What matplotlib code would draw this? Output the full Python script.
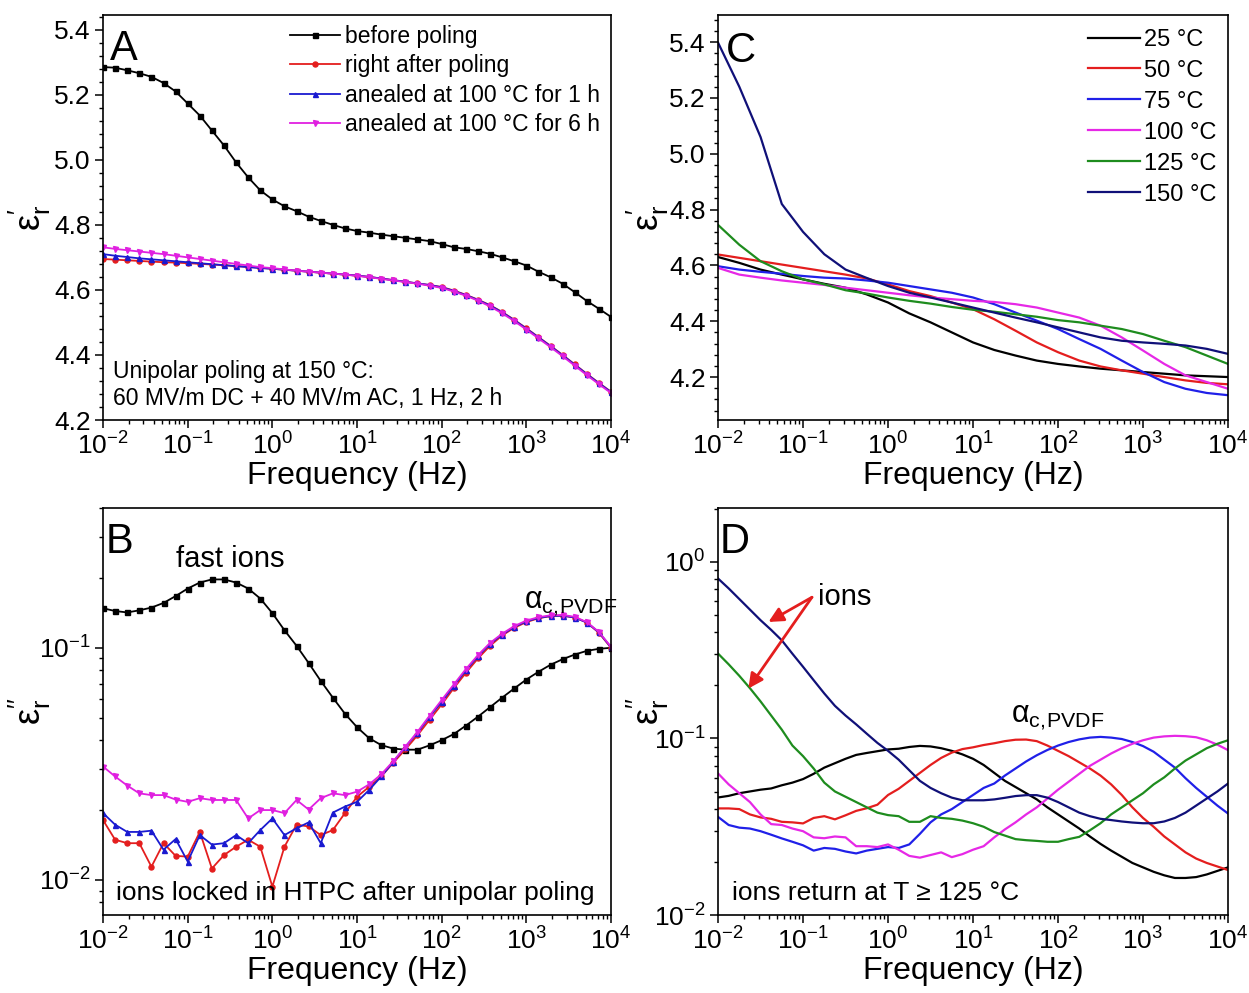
'''Dielectric spectra of the poled HTPC film: eps' and eps'' vs frequency'''
import matplotlib
matplotlib.use('Agg')
import matplotlib.pyplot as plt
import numpy as np
from matplotlib.ticker import AutoMinorLocator, LogLocator, NullFormatter

plt.rcParams['font.family'] = ['Liberation Sans', 'DejaVu Sans']
plt.rcParams['mathtext.fontset'] = 'custom'
plt.rcParams['mathtext.rm'] = 'Liberation Sans'
plt.rcParams['mathtext.it'] = 'Liberation Sans:italic'
plt.rcParams['mathtext.default'] = 'regular'

# measurement grids (7 points/decade for A,B; 4 for C; 8 for D)
freq_AB = np.logspace(-2, 4, 43)
freq_C = np.logspace(-2, 4, 25)
freq_D = np.logspace(-2, 4, 49)

# ---- panel A: eps' after poling ----
labels_A = ['before poling', 'right after poling',
            'anealed at 100 °C for 1 h', 'anealed at 100 °C for 6 h']
A_before = [5.285, 5.283, 5.275, 5.266, 5.255, 5.236, 5.210, 5.173, 5.136, 5.090,
            5.044, 4.992, 4.946, 4.906, 4.878, 4.857, 4.842, 4.825, 4.812, 4.800,
            4.789, 4.781, 4.776, 4.770, 4.765, 4.760, 4.755, 4.750, 4.741, 4.731,
            4.726, 4.719, 4.711, 4.700, 4.688, 4.675, 4.656, 4.639, 4.619, 4.593,
            4.566, 4.542, 4.517]
A_after = [4.695, 4.693, 4.691, 4.689, 4.687, 4.685, 4.684, 4.682, 4.680, 4.678,
           4.676, 4.673, 4.671, 4.668, 4.665, 4.662, 4.659, 4.656, 4.653, 4.650,
           4.647, 4.644, 4.640, 4.635, 4.630, 4.625, 4.620, 4.615, 4.609, 4.598,
           4.585, 4.570, 4.553, 4.532, 4.508, 4.482, 4.455, 4.428, 4.400, 4.371,
           4.342, 4.314, 4.287]
A_1h = [4.710, 4.705, 4.701, 4.697, 4.694, 4.691, 4.688, 4.685, 4.682, 4.679,
        4.676, 4.673, 4.670, 4.667, 4.665, 4.662, 4.659, 4.656, 4.653, 4.650,
        4.647, 4.644, 4.640, 4.635, 4.630, 4.625, 4.620, 4.615, 4.608, 4.597,
        4.584, 4.569, 4.552, 4.531, 4.507, 4.481, 4.454, 4.427, 4.399, 4.370,
        4.341, 4.313, 4.286]
A_6h = [4.731, 4.726, 4.722, 4.718, 4.714, 4.710, 4.705, 4.700, 4.695, 4.690,
        4.685, 4.680, 4.675, 4.670, 4.667, 4.663, 4.659, 4.656, 4.653, 4.650,
        4.647, 4.643, 4.639, 4.634, 4.629, 4.624, 4.619, 4.613, 4.606, 4.595,
        4.582, 4.567, 4.549, 4.528, 4.504, 4.478, 4.451, 4.424, 4.396, 4.367,
        4.338, 4.310, 4.283]

# ---- panel B: eps'' after poling ----
B_before = [0.148, 0.144, 0.142, 0.145, 0.149, 0.156, 0.167, 0.180, 0.191, 0.197,
            0.197, 0.191, 0.180, 0.163, 0.141, 0.119, 0.102, 0.086, 0.072, 0.061,
            0.052, 0.0455, 0.0408, 0.0381, 0.0368, 0.0364, 0.0364, 0.0380, 0.0400, 0.0425,
            0.0462, 0.0505, 0.0555, 0.0610, 0.0668, 0.0730, 0.0788, 0.0845, 0.0893, 0.0935,
            0.0970, 0.0990, 0.1000]
B_after = [0.0181, 0.0149, 0.0144, 0.0144, 0.0114, 0.0144, 0.0127, 0.0126, 0.0161, 0.0112,
           0.0128, 0.0139, 0.0149, 0.0139, 0.00936, 0.0139, 0.0173, 0.0170, 0.0156, 0.0164,
           0.0194, 0.0228, 0.0252, 0.0279, 0.0320, 0.0365, 0.0420, 0.0490, 0.0570, 0.0670,
           0.0780, 0.0900, 0.1020, 0.1130, 0.1220, 0.1290, 0.1340, 0.1370, 0.1375, 0.1350,
           0.1285, 0.1160, 0.1000]
B_1h = [0.0194, 0.0173, 0.0161, 0.0161, 0.0163, 0.0135, 0.0150, 0.0120, 0.0156, 0.0142,
        0.0144, 0.0156, 0.0144, 0.0164, 0.0184, 0.0156, 0.0167, 0.0177, 0.0144, 0.0195,
        0.0207, 0.0217, 0.0244, 0.0279, 0.0323, 0.0375, 0.0430, 0.0505, 0.0585, 0.0685,
        0.0800, 0.0920, 0.1040, 0.1140, 0.1230, 0.1300, 0.1345, 0.1370, 0.1375, 0.1350,
        0.1285, 0.1165, 0.1005]
B_6h = [0.0308, 0.0279, 0.0255, 0.0236, 0.0232, 0.0232, 0.0222, 0.0217, 0.0225, 0.0221,
        0.0221, 0.0221, 0.0184, 0.0200, 0.0200, 0.0194, 0.0221, 0.0201, 0.0225, 0.0236,
        0.0232, 0.0240, 0.0258, 0.0285, 0.0325, 0.0375, 0.0435, 0.0510, 0.0596, 0.0695,
        0.0810, 0.0930, 0.1050, 0.1150, 0.1240, 0.1310, 0.1355, 0.1380, 0.1385, 0.1360,
        0.1290, 0.1170, 0.1010]

# ---- panel C: eps' at different temperatures ----
labels_T = ['25 °C', '50 °C', '75 °C', '100 °C', '125 °C', '150 °C']
C_25 = [4.630, 4.609, 4.585, 4.567, 4.550, 4.534, 4.520, 4.496, 4.467, 4.428,
        4.396, 4.360, 4.324, 4.297, 4.277, 4.259, 4.247, 4.238, 4.230, 4.224,
        4.218, 4.212, 4.206, 4.203, 4.200]
C_50 = [4.639, 4.627, 4.615, 4.603, 4.591, 4.579, 4.567, 4.553, 4.532, 4.508,
        4.490, 4.467, 4.443, 4.407, 4.366, 4.324, 4.289, 4.259, 4.238, 4.224,
        4.212, 4.200, 4.188, 4.179, 4.174]
C_75 = [4.597, 4.585, 4.577, 4.570, 4.562, 4.556, 4.553, 4.546, 4.538, 4.526,
        4.514, 4.502, 4.485, 4.461, 4.431, 4.402, 4.372, 4.336, 4.301, 4.259,
        4.218, 4.182, 4.158, 4.143, 4.135]
C_100 = [4.591, 4.567, 4.556, 4.546, 4.538, 4.530, 4.520, 4.511, 4.502, 4.493,
         4.485, 4.479, 4.473, 4.469, 4.461, 4.449, 4.431, 4.413, 4.384, 4.342,
         4.295, 4.247, 4.206, 4.182, 4.158]
C_125 = [4.745, 4.674, 4.615, 4.579, 4.550, 4.532, 4.511, 4.499, 4.485, 4.473,
         4.463, 4.451, 4.441, 4.434, 4.425, 4.416, 4.404, 4.396, 4.384, 4.372,
         4.354, 4.330, 4.307, 4.277, 4.247]
C_150 = [5.398, 5.240, 5.060, 4.820, 4.720, 4.640, 4.585, 4.555, 4.526, 4.502,
         4.485, 4.467, 4.449, 4.431, 4.413, 4.396, 4.378, 4.360, 4.342, 4.330,
         4.324, 4.319, 4.313, 4.301, 4.283]

# ---- panel D: log10(eps'') at different temperatures ----
D_25 = [-1.334, -1.325, -1.31, -1.30, -1.29, -1.283, -1.265, -1.25, -1.23, -1.20,
        -1.165, -1.14, -1.115, -1.093, -1.082, -1.072, -1.062, -1.058, -1.048, -1.042,
        -1.045, -1.055, -1.07, -1.09, -1.115, -1.15, -1.195, -1.24, -1.275, -1.31,
        -1.345, -1.39, -1.43, -1.47, -1.51, -1.555, -1.597, -1.635, -1.67, -1.705,
        -1.73, -1.755, -1.775, -1.79, -1.79, -1.785, -1.77, -1.75, -1.73]
D_50 = [-1.396, -1.396, -1.40, -1.43, -1.447, -1.455, -1.472, -1.475, -1.481, -1.45,
        -1.44, -1.458, -1.435, -1.41, -1.395, -1.375, -1.32, -1.285, -1.24, -1.195,
        -1.15, -1.11, -1.08, -1.06, -1.05, -1.037, -1.027, -1.015, -1.007, -1.006,
        -1.015, -1.04, -1.07, -1.10, -1.135, -1.17, -1.21, -1.26, -1.32, -1.39,
        -1.45, -1.50, -1.555, -1.60, -1.645, -1.68, -1.705, -1.725, -1.745]
D_75 = [-1.444, -1.49, -1.505, -1.51, -1.525, -1.545, -1.566, -1.585, -1.605, -1.635,
        -1.62, -1.625, -1.64, -1.651, -1.635, -1.625, -1.615, -1.62, -1.60, -1.54,
        -1.475, -1.43, -1.40, -1.36, -1.32, -1.28, -1.255, -1.21, -1.17, -1.13,
        -1.095, -1.065, -1.04, -1.02, -1.005, -0.995, -0.991, -0.995, -1.003, -1.02,
        -1.043, -1.075, -1.12, -1.165, -1.225, -1.28, -1.33, -1.38, -1.425]
D_100 = [-1.198, -1.26, -1.31, -1.36, -1.43, -1.485, -1.49, -1.51, -1.525, -1.56,
         -1.565, -1.555, -1.56, -1.61, -1.61, -1.615, -1.60, -1.63, -1.665, -1.675,
         -1.66, -1.645, -1.672, -1.655, -1.63, -1.61, -1.56, -1.515, -1.475, -1.43,
         -1.39, -1.34, -1.29, -1.245, -1.20, -1.155, -1.12, -1.085, -1.055, -1.03,
         -1.01, -0.995, -0.988, -0.985, -0.987, -0.993, -1.01, -1.035, -1.066]
D_125 = [-0.519, -0.58, -0.645, -0.715, -0.79, -0.87, -0.95, -1.04, -1.10, -1.17,
         -1.25, -1.30, -1.33, -1.36, -1.39, -1.42, -1.434, -1.44, -1.472, -1.472,
         -1.44, -1.45, -1.455, -1.465, -1.48, -1.50, -1.53, -1.55, -1.57, -1.576,
         -1.58, -1.585, -1.585, -1.57, -1.557, -1.52, -1.48, -1.43, -1.39, -1.35,
         -1.31, -1.26, -1.22, -1.17, -1.125, -1.09, -1.055, -1.03, -1.01]
D_150 = [-0.094, -0.15, -0.21, -0.27, -0.33, -0.385, -0.444, -0.52, -0.594, -0.67,
         -0.745, -0.815, -0.87, -0.92, -0.973, -1.025, -1.07, -1.12, -1.18, -1.24,
         -1.28, -1.31, -1.335, -1.35, -1.35, -1.35, -1.345, -1.336, -1.326, -1.321,
         -1.321, -1.335, -1.36, -1.39, -1.42, -1.44, -1.455, -1.462, -1.47, -1.476,
         -1.48, -1.48, -1.47, -1.45, -1.42, -1.38, -1.34, -1.30, -1.255]

col_AB = ['black', '#e41e1e', '#1a1ad0', '#e020e0']
mk_AB = ['s', 'o', '^', 'v']
col_T = ['black', '#e41e1e', '#2020e8', '#e628e6', '#1e8c1e', '#101078']

TICK = 19
LAB = 23
YLAB = 26


def style_axes(ax, log_y=False):
    ax.set_xscale('log')
    ax.set_xlim(1e-2, 1e4)
    ax.xaxis.set_major_locator(LogLocator(base=10, numticks=10))
    ax.xaxis.set_minor_locator(LogLocator(base=10, subs=np.arange(2, 10), numticks=20))
    ax.xaxis.set_minor_formatter(NullFormatter())
    if log_y:
        ax.set_yscale('log')
        ax.yaxis.set_minor_formatter(NullFormatter())
    else:
        ax.yaxis.set_minor_locator(AutoMinorLocator(5))
    ax.tick_params(which='major', direction='out', length=6, width=1.1,
                   labelsize=TICK, top=False, right=False, pad=3)
    ax.tick_params(which='minor', direction='out', length=3, width=1,
                   top=False, right=False)
    for s in ax.spines.values():
        s.set_linewidth(1.2)
    ax.set_xlabel('Frequency (Hz)', fontsize=LAB, labelpad=1)


fig = plt.figure(figsize=(12.49, 9.93), dpi=100)
axA = fig.add_axes([0.0825, 0.577, 0.4067, 0.4079])
axC = fig.add_axes([0.5749, 0.577, 0.4083, 0.4079])
axB = fig.add_axes([0.0825, 0.0785, 0.4067, 0.4099])
axD = fig.add_axes([0.5749, 0.0785, 0.4083, 0.4099])

alpha_lab = '$α_{c,\\!PVDF}$'

# A
for ys, c, m, lab in zip([A_before, A_after, A_1h, A_6h], col_AB, mk_AB, labels_A):
    axA.plot(freq_AB, ys, color=c, marker=m, markersize=3.6, lw=1.3, label=lab)
style_axes(axA)
axA.set_ylim(4.2, 5.445)
axA.set_yticks([4.2, 4.4, 4.6, 4.8, 5.0, 5.2, 5.4])
axA.set_ylabel("$ε_r^{\\prime}$", fontsize=YLAB)
axA.yaxis.set_label_coords(-0.098, 0.5)
axA.legend(loc='upper left', bbox_to_anchor=(0.368, 0.976), frameon=False,
           fontsize=16.5, handlelength=2.2, handletextpad=0.2, labelspacing=0.28,
           borderpad=0, borderaxespad=0)
axA.text(0.014, 0.889, 'A', transform=axA.transAxes, fontsize=30, va='baseline')
axA.text(0.02, 0.104, 'Unipolar poling at 150 °C:', transform=axA.transAxes,
         fontsize=16.5, va='baseline')
axA.text(0.02, 0.037, '60 MV/m DC + 40 MV/m AC, 1 Hz, 2 h', transform=axA.transAxes,
         fontsize=16.5, va='baseline')

# B
for ys, c, m in zip([B_before, B_after, B_1h, B_6h], col_AB, mk_AB):
    axB.plot(freq_AB, ys, color=c, marker=m, markersize=3.6, lw=1.3)
style_axes(axB, log_y=True)
axB.set_ylim(0.00706, 0.40)
axB.set_yticks([0.01, 0.1])
axB.set_ylabel("$ε_r^{\\prime\\prime}$", fontsize=YLAB)
axB.yaxis.set_label_coords(-0.098, 0.5)
axB.text(0.006, 0.889, 'B', transform=axB.transAxes, fontsize=30, va='baseline')
axB.text(0.0728, 0.222, 'fast ions', fontsize=21, va='baseline')
axB.text(933, 0.148, alpha_lab, fontsize=22, va='baseline')
axB.text(0.01422, 0.0082, 'ions locked in HTPC after unipolar poling', fontsize=19,
         va='baseline')

# C
for ys, c, lab in zip([C_25, C_50, C_75, C_100, C_125, C_150], col_T, labels_T):
    axC.plot(freq_C, ys, color=c, lw=1.6, label=lab)
style_axes(axC)
axC.set_ylim(4.046, 5.497)
axC.set_yticks([4.2, 4.4, 4.6, 4.8, 5.0, 5.2, 5.4])
axC.set_ylabel("$ε_r^{\\prime}$", fontsize=YLAB)
axC.yaxis.set_label_coords(-0.092, 0.5)
axC.legend(loc='upper left', bbox_to_anchor=(0.725, 0.966), frameon=False,
           fontsize=17, handlelength=2.2, handletextpad=0.2, labelspacing=0.38,
           borderpad=0, borderaxespad=0)
axC.text(0.016, 0.884, 'C', transform=axC.transAxes, fontsize=30, va='baseline')

# D
for ys, c in zip([D_25, D_50, D_75, D_100, D_125, D_150], col_T):
    axD.plot(freq_D, 10 ** np.array(ys), color=c, lw=1.6)
style_axes(axD, log_y=True)
axD.set_ylim(0.01, 2.02)
axD.set_yticks([0.01, 0.1, 1])
axD.set_ylabel("$ε_r^{\\prime\\prime}$", fontsize=YLAB)
axD.yaxis.set_label_coords(-0.092, 0.5)
axD.text(0.004, 0.889, 'D', transform=axD.transAxes, fontsize=30, va='baseline')
axD.text(0.151, 0.5675, 'ions', fontsize=21, va='baseline')
axD.text(27.7, 0.1236, alpha_lab, fontsize=22, va='baseline')
axD.text(0.01462, 0.01217, 'ions return at T ≥ 125 °C', fontsize=19, va='baseline')
for tip in [(10 ** -1.407, 10 ** -0.34), (10 ** -1.643, 10 ** -0.717)]:
    axD.annotate('', xy=tip, xytext=(10 ** -0.895, 10 ** -0.20),
                 arrowprops=dict(arrowstyle='-|>', color='#e41e1e', lw=2,
                                 mutation_scale=22, shrinkA=0, shrinkB=0))

fig.savefig('out.png', dpi=100)
